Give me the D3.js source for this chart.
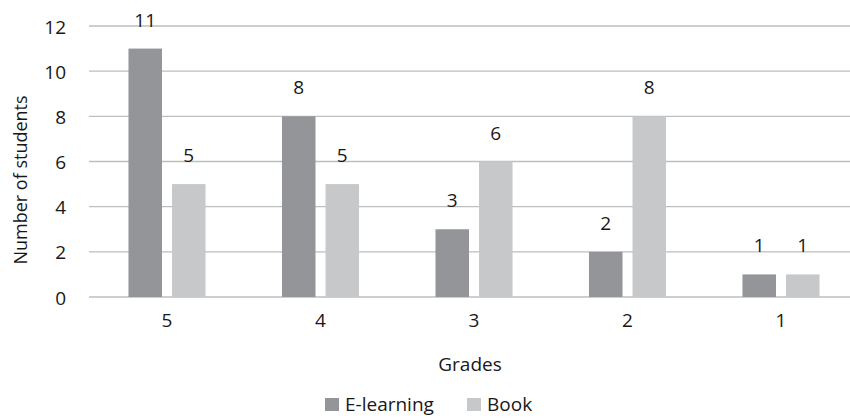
<!DOCTYPE html>
<html>
<head>
<meta charset="utf-8">
<script src="https://cdn.jsdelivr.net/npm/d3@7/dist/d3.min.js"></script>
<style>
  html, body { margin: 0; padding: 0; background: #fff; }
  svg { display: block; font-family: "Open Sans", "Noto Sans", sans-serif; }
</style>
</head>
<body>
<svg id="chart" width="850" height="418"></svg>
<script>
// Grades awarded, by study method
const grades = ["5", "4", "3", "2", "1"];
const series = ["E-learning", "Book"];
const eLearning = [11, 8, 3, 2, 1];
const book = [5, 5, 6, 8, 1];
const yTicks = [0, 2, 4, 6, 8, 10, 12];
const colors = ["#939598", "#c7c8ca"];

const rows = grades.map((g, i) => ({ grade: g, values: [eLearning[i], book[i]] }));

const svg = d3.select("#chart");
const textColor = "#1a1718";
const fontSize = 19;

const x0 = d3.scaleBand().domain(grades).range([90.25, 857.75]).paddingInner(0.498).paddingOuter(0.249);
const x1 = d3.scaleBand().domain(series).range([0, x0.bandwidth()]).paddingInner(0.23);
const y = d3.scaleLinear().domain([0, 12]).range([297, 26]);

// horizontal gridlines
svg.append("g")
  .selectAll("line")
  .data(yTicks)
  .join("line")
  .attr("x1", 89).attr("x2", 850)
  .attr("y1", d => y(d)).attr("y2", d => y(d))
  .attr("stroke", "#bdbec0").attr("stroke-width", 1.3);

// y axis labels
const yAxis = svg.append("g")
  .attr("transform", "translate(66,1)")
  .call(d3.axisLeft(y).tickValues(yTicks).tickSize(0).tickPadding(0));
yAxis.select(".domain").remove();
yAxis.selectAll("text")
  .attr("font-size", fontSize).attr("font-family", "Open Sans, sans-serif")
  .attr("fill", textColor);

// x axis labels
const xAxis = svg.append("g")
  .attr("transform", "translate(0,313)")
  .call(d3.axisBottom(x0).tickSize(0).tickPadding(0));
xAxis.select(".domain").remove();
xAxis.selectAll("text")
  .attr("font-size", fontSize).attr("font-family", "Open Sans, sans-serif")
  .attr("fill", textColor);

// bars
const groups = svg.append("g")
  .selectAll("g")
  .data(rows)
  .join("g")
  .attr("transform", d => `translate(${x0(d.grade)},0)`);

groups.selectAll("rect")
  .data(d => d.values.map((v, k) => ({ key: series[k], value: v, k })))
  .join("rect")
  .attr("x", d => x1(d.key))
  .attr("width", x1.bandwidth())
  .attr("y", d => y(d.value))
  .attr("height", d => y(0) - y(d.value))
  .attr("fill", d => colors[d.k]);

// value labels
groups.selectAll("text")
  .data(d => d.values.map((v, k) => ({ key: series[k], value: v, k })))
  .join("text")
  .attr("x", d => x1(d.key) + x1.bandwidth() / 2)
  .attr("y", d => y(d.value) - 22)
  .attr("text-anchor", "middle")
  .attr("font-size", fontSize)
  .attr("fill", textColor)
  .text(d => d.value);

// axis titles
svg.append("text")
  .attr("x", 470).attr("y", 371)
  .attr("text-anchor", "middle")
  .attr("font-size", fontSize).attr("fill", textColor)
  .text("Grades");

svg.append("text")
  .attr("transform", "translate(27,180) rotate(-90)")
  .attr("text-anchor", "middle")
  .attr("font-size", 18).attr("fill", textColor)
  .text("Number of students");

// legend
const legendX = [325, 467];
const legend = svg.append("g")
  .selectAll("g")
  .data(series)
  .join("g")
  .attr("transform", (d, i) => `translate(${legendX[i]},398)`);
legend.append("rect")
  .attr("width", 14).attr("height", 13)
  .attr("fill", (d, i) => colors[i]);
legend.append("text")
  .attr("x", 20).attr("y", 13)
  .attr("font-size", fontSize).attr("fill", textColor)
  .text(d => d);
</script>
</body>
</html>
